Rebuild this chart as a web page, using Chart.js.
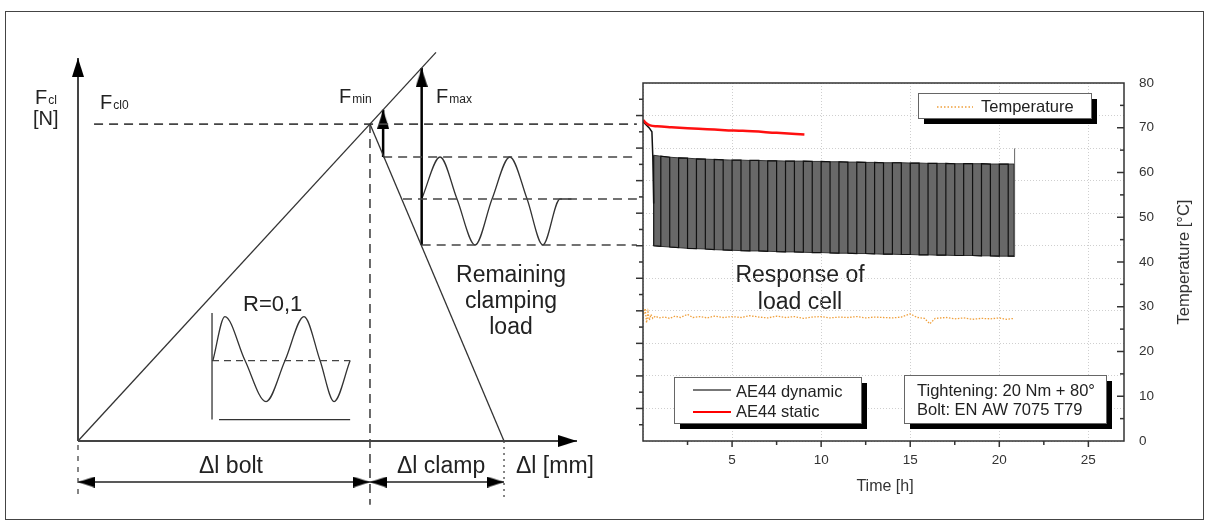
<!DOCTYPE html>
<html>
<head>
<meta charset="utf-8">
<script src="https://cdn.jsdelivr.net/npm/chart.js@4.4.1/dist/chart.umd.min.js"></script>
<style>
  body { margin: 0; background: #fff; }
  canvas { position: absolute; left: 0; top: 0; }
</style>
</head>
<body>
<canvas id="sketch" width="1210" height="530"></canvas>
<canvas id="plot" width="1210" height="530"></canvas>
<script>
// ---------- load cell / temperature measurement (right plot) ----------
// force axis on the left has no labels, 0..11 units
const staticTime = [0.02, 0.15, 0.4, 0.8, 1.6, 2.5, 3.6, 4.6, 5.6, 7.5, 9.06];
const staticForce = [9.86, 9.78, 9.70, 9.67, 9.64, 9.61, 9.58, 9.55, 9.53, 9.47, 9.42];

// dynamic signal: start transient, then max / min envelope of the cycles
const dynStart = [[0.02, 9.80], [0.35, 9.62], [0.5, 9.5], [0.55, 8.75], [0.6, 7.3]];
const dynTime = [0.6, 1.0, 1.5, 2.0, 2.5, 3.0, 3.5, 4.0, 4.5, 5.0, 5.5, 6.0, 6.5, 7.0,
  7.5, 8.0, 8.5, 9.0, 9.5, 10.0, 10.5, 11.0, 11.5, 12.0, 12.5, 13.0, 13.5, 14.0, 14.5,
  15.0, 15.5, 16.0, 16.5, 17.0, 17.5, 18.0, 18.5, 19.0, 19.5, 20.0, 20.5, 20.84];
const dynMax = [8.78, 8.75, 8.72, 8.70, 8.69, 8.67, 8.66, 8.65, 8.64, 8.63, 8.63, 8.62,
  8.62, 8.61, 8.61, 8.60, 8.60, 8.60, 8.59, 8.59, 8.58, 8.58, 8.57, 8.57, 8.56, 8.56,
  8.55, 8.55, 8.55, 8.54, 8.54, 8.53, 8.53, 8.53, 8.52, 8.52, 8.52, 8.52, 8.51, 8.51,
  8.51, 8.51];
const dynMin = [6.00, 5.98, 5.96, 5.94, 5.92, 5.91, 5.90, 5.88, 5.87, 5.86, 5.85, 5.84,
  5.84, 5.83, 5.82, 5.81, 5.81, 5.80, 5.79, 5.79, 5.78, 5.77, 5.77, 5.76, 5.76, 5.75,
  5.74, 5.74, 5.73, 5.73, 5.72, 5.72, 5.71, 5.71, 5.70, 5.70, 5.70, 5.69, 5.69, 5.68,
  5.68, 5.68];
const dynEnd = [[20.84, 5.68], [20.86, 8.99]];

const tempTime = [0.05, 0.12, 0.2, 0.28, 0.36, 0.45, 0.55, 0.7, 0.9, 1.2, 1.5, 1.8, 2.1,
  2.5, 2.8, 3.2, 3.6, 4.0, 4.5, 5.0, 5.5, 6.0, 6.5, 7.0, 7.5, 8.0, 8.5, 9.0, 9.5, 10.0,
  10.5, 11.0, 11.5, 12.0, 12.5, 13.0, 13.5, 14.0, 14.5, 15.0, 15.4, 15.8, 16.1, 16.4,
  17.0, 17.5, 18.0, 18.5, 19.0, 19.5, 20.0, 20.4, 20.84];
const tempValue = [28.4, 29.6, 26.4, 28.8, 27.0, 28.3, 27.4, 27.9, 27.5, 27.7, 27.4, 27.9,
  27.6, 28.3, 27.6, 27.8, 27.5, 27.9, 27.6, 27.8, 27.6, 28.0, 27.7, 27.5, 27.9, 27.6,
  27.8, 27.4, 27.7, 27.8, 27.5, 27.7, 27.6, 27.8, 27.5, 27.7, 27.6, 27.5, 27.7, 28.4,
  27.6, 27.4, 26.2, 27.4, 27.6, 27.3, 27.5, 27.2, 27.4, 27.3, 27.5, 27.2, 27.4];

const timeMajor = [5, 10, 15, 20, 25];
const timeMinor = [2.5, 7.5, 12.5, 17.5, 22.5];
const forceMajor = [1, 2, 3, 4, 5, 6, 7, 8, 9, 10];
const forceMinor = [0.5, 1.5, 2.5, 3.5, 4.5, 5.5, 6.5, 7.5, 8.5, 9.5, 10.5];
const tempMajor = [10, 20, 30, 40, 50, 60, 70];
const tempMinor = [5, 15, 25, 35, 45, 55, 65, 75];

// ---------- schematic (left), x = Δl, y = F in the same units as the load cell ----------
const F_CL0 = 9.73;
const F_UP = 8.72, F_MEAN = 7.43, F_LOW = 6.02;
const DL_BOLT = 10, DL_END = 14.59, DL_LINK = 19.14;
const fclAxis = [[0, 0], [0, 11.76]];
const dlAxis = [[0, 0], [17.09, 0]];
const boltLine = [[0, 0], [12.26, 11.93]];
const clampLine = [[DL_BOLT, F_CL0], [DL_END, 0]];
const fminArrow = [[10.45, F_UP], [10.45, 10.17]];
const fmaxArrow = [[11.77, F_LOW], [11.77, 11.45]];
const loadWave = [[11.77, F_MEAN], [12.4, F_UP], [12.98, F_MEAN], [13.6, F_LOW], [14.18, F_MEAN],
  [14.79, F_UP], [15.38, F_MEAN], [15.92, F_LOW], [16.51, F_MEAN], [16.9, F_MEAN]];
const insetWave = [[4.62, 2.47], [5.03, 3.82], [5.72, 2.47], [6.44, 1.21], [7.09, 2.47],
  [7.74, 3.82], [8.29, 2.47], [8.77, 1.21], [9.32, 2.47]];
const insetAxis = [[4.59, 3.93], [4.59, 0.66]];
const insetBase = [[4.83, 0.66], [9.32, 0.66]];
const insetMean = [[4.59, 2.47], [9.32, 2.47]];
const DIM_Y = -1.26;

const FONT = '"Liberation Sans", Arial, sans-serif';
Chart.defaults.font.family = FONT;

function makeArrow(w, len) {
    // tip sits in the centre of the canvas, so the point marks the tip
    const c = document.createElement('canvas');
    c.width = w;
    c.height = len * 2;
    const g = c.getContext('2d');
    g.fillStyle = '#000';
    g.beginPath();
    g.moveTo(w / 2, len);
    g.lineTo(w, len * 2);
    g.lineTo(0, len * 2);
    g.closePath();
    g.fill();
    return c;
}
const bigArrow = makeArrow(12, 19);
const dimArrow = makeArrow(11, 17);

function pts(arr) {
    return arr.map(p => ({ x: p[0], y: p[1] }));
}

function seg(arr, opt = {}) {
    const n = arr.length;
    return {
        data: pts(arr),
        showLine: true,
        borderColor: opt.color || '#333',
        borderWidth: opt.width || 1.3,
        borderDash: opt.dash || [],
        cubicInterpolationMode: opt.smooth ? 'monotone' : 'default',
        pointRadius: c => ((c.dataIndex === n - 1 && opt.end != null) || (c.dataIndex === 0 && opt.start != null)) ? 1 : 0,
        pointStyle: c => opt.arrow || bigArrow,
        pointRotation: c => (c.dataIndex === 0 ? (opt.start || 0) : (opt.end || 0)),
        pointBorderWidth: 0
    };
}

function subText(ctx, main, sub, x, y) {
    ctx.font = '20px ' + FONT;
    ctx.fillText(main, x, y);
    const w = ctx.measureText(main).width;
    ctx.font = '12px ' + FONT;
    ctx.fillText(sub, x + w + 1, y);
}

const sketchLabels = {
    id: 'sketchLabels',
    afterDraw(chart) {
        const ctx = chart.ctx;
        ctx.save();
        ctx.strokeStyle = '#444';
        ctx.lineWidth = 1;
        ctx.strokeRect(5.5, 11.5, 1198, 508);

        ctx.fillStyle = '#222';
        ctx.textAlign = 'left';
        subText(ctx, 'F', 'cl', 35, 104);
        ctx.font = '20px ' + FONT;
        ctx.fillText('[N]', 33, 125);
        subText(ctx, 'F', 'cl0', 100, 109);
        subText(ctx, 'F', 'min', 339, 103);
        subText(ctx, 'F', 'max', 436, 103);

        ctx.font = '22px ' + FONT;
        ctx.fillText('R=0,1', 243, 311);
        ctx.font = '23px ' + FONT;
        ctx.fillText('Δl bolt', 199, 473);
        ctx.fillText('Δl clamp', 397, 473);
        ctx.fillText('Δl [mm]', 516, 473);
        ctx.textAlign = 'center';
        ctx.fillText('Remaining', 511, 282);
        ctx.fillText('clamping', 511, 308);
        ctx.fillText('load', 511, 334);
        ctx.fillText('Response of', 800, 282);
        ctx.fillText('load cell', 800, 309);
        ctx.restore();
    }
};

new Chart(document.getElementById('sketch'), {
    type: 'scatter',
    data: {
        datasets: [
            seg(fclAxis, { width: 2, color: '#444', end: 0 }),
            seg(dlAxis, { width: 2, color: '#444', end: 90 }),
            seg(boltLine),
            seg(clampLine),
            seg([[0.55, F_CL0], [DL_LINK, F_CL0]], { dash: [9, 6], width: 1.6, color: '#444' }),
            seg([[10.45, F_UP], [DL_LINK, F_UP]], { dash: [9, 6], width: 1.6, color: '#444' }),
            seg([[11.13, F_MEAN], [DL_LINK, F_MEAN]], { dash: [9, 6], width: 1.6, color: '#444' }),
            seg([[11.77, F_LOW], [DL_LINK, F_LOW]], { dash: [9, 6], width: 1.6, color: '#444' }),
            seg([[DL_BOLT, F_CL0], [DL_BOLT, -1.96]], { dash: [9, 6], width: 1.6, color: '#444' }),
            seg([[0, -0.12], [0, -1.8]], { dash: [5, 6], width: 1.3, color: '#444' }),
            seg([[DL_END, 0], [DL_END, -1.8]], { dash: [2, 4], width: 1.3, color: '#444' }),
            seg(fminArrow, { width: 2.5, color: '#000', end: 0 }),
            seg(fmaxArrow, { width: 2.5, color: '#000', end: 0 }),
            seg(loadWave, { smooth: true }),
            seg([[0, DIM_Y], [DL_BOLT, DIM_Y]], { width: 1.5, color: '#222', start: 270, end: 90, arrow: dimArrow }),
            seg([[DL_BOLT, DIM_Y], [DL_END, DIM_Y]], { width: 1.5, color: '#222', start: 270, end: 90, arrow: dimArrow }),
            seg(insetAxis),
            seg(insetBase),
            seg(insetMean, { dash: [7, 5], color: '#444' }),
            seg(insetWave, { smooth: true })
        ]
    },
    options: {
        responsive: false,
        animation: false,
        events: [],
        layout: { padding: { left: 5, right: 567, top: 7.8, bottom: 10.8 } },
        plugins: { legend: { display: false }, tooltip: { enabled: false } },
        scales: {
            x: { type: 'linear', display: false, min: -2.5, max: 19.35 },
            y: { type: 'linear', display: false, min: -2.4, max: 13.3 }
        }
    },
    plugins: [sketchLabels]
});

// ---------- right plot ----------
const stripes = [];
dynTime.forEach((t, i) => {
    const a = i % 2 ? dynMin[i] : dynMax[i];
    const b = i % 2 ? dynMax[i] : dynMin[i];
    stripes.push({ x: t, y: a }, { x: t, y: b });
});

function drawBox(ctx, x, y, w, h) {
    ctx.fillStyle = '#000';
    ctx.fillRect(x + 6, y + 6, w, h);
    ctx.fillStyle = '#fff';
    ctx.fillRect(x, y, w, h);
    ctx.strokeStyle = '#666';
    ctx.lineWidth = 1;
    ctx.strokeRect(x + 0.5, y + 0.5, w, h);
}

const plotFrame = {
    id: 'plotFrame',
    afterDraw(chart) {
        const { ctx, chartArea: a, scales } = chart;
        ctx.save();
        ctx.strokeStyle = '#333';
        ctx.lineWidth = 1.5;
        ctx.strokeRect(a.left, a.top, a.right - a.left, a.bottom - a.top);

        const tick = (vals, scale, len, side) => {
            vals.forEach(v => {
                const p = scale.getPixelForValue(v);
                ctx.beginPath();
                if (side === 'bottom') { ctx.moveTo(p, a.bottom); ctx.lineTo(p, a.bottom + len); }
                if (side === 'left') { ctx.moveTo(a.left, p); ctx.lineTo(a.left - len, p); }
                if (side === 'right') { ctx.moveTo(a.right, p); ctx.lineTo(a.right - len, p); }
                ctx.stroke();
            });
        };
        tick(timeMajor, scales.x, 6, 'bottom');
        tick(timeMinor, scales.x, 4, 'bottom');
        tick(forceMajor, scales.yF, 7, 'left');
        tick(forceMinor, scales.yF, 4, 'left');
        tick(tempMajor, scales.yT, 7, 'right');
        tick(tempMinor, scales.yT, 4, 'right');

        ctx.fillStyle = '#333';
        ctx.font = '16px ' + FONT;
        ctx.textAlign = 'center';
        ctx.fillText('Time [h]', 885, 491);
        ctx.save();
        ctx.translate(1189, 262);
        ctx.rotate(-Math.PI / 2);
        ctx.font = '16.5px ' + FONT;
        ctx.fillText('Temperature [°C]', 0, 0);
        ctx.restore();

        // legend and info boxes
        drawBox(ctx, 918, 93, 173, 25);
        drawBox(ctx, 674, 377, 187, 46);
        drawBox(ctx, 904, 375, 202, 48);

        ctx.lineWidth = 1.5;
        ctx.strokeStyle = 'rgb(240,160,60)';
        ctx.setLineDash([1.5, 2]);
        ctx.beginPath(); ctx.moveTo(937, 107); ctx.lineTo(973, 107); ctx.stroke();
        ctx.setLineDash([]);
        ctx.lineWidth = 2;
        ctx.strokeStyle = '#777';
        ctx.beginPath(); ctx.moveTo(693, 390); ctx.lineTo(731, 390); ctx.stroke();
        ctx.strokeStyle = '#ff0000';
        ctx.beginPath(); ctx.moveTo(693, 412); ctx.lineTo(731, 412); ctx.stroke();

        ctx.fillStyle = '#222';
        ctx.textAlign = 'left';
        ctx.font = '16.5px ' + FONT;
        ctx.fillText('Temperature', 981, 112);
        ctx.fillText('AE44 dynamic', 736, 397);
        ctx.fillText('AE44 static', 736, 417);
        ctx.fillText('Tightening: 20 Nm + 80°', 917, 396);
        ctx.fillText('Bolt: EN AW 7075 T79', 917, 415);
        ctx.restore();
    }
};

const dotted = { color: '#cfcfcf', lineWidth: 1, drawTicks: false };

// lower "order" is drawn on top
new Chart(document.getElementById('plot'), {
    type: 'scatter',
    data: {
        datasets: [
            {
                label: 'band max',
                data: dynTime.map((t, i) => ({ x: t, y: dynMax[i] })),
                yAxisID: 'yF', showLine: true, pointRadius: 0, order: 6,
                borderColor: '#333', borderWidth: 1,
                backgroundColor: 'rgb(104,104,104)', fill: '+1'
            },
            {
                label: 'band min',
                data: dynTime.map((t, i) => ({ x: t, y: dynMin[i] })),
                yAxisID: 'yF', showLine: true, pointRadius: 0, order: 5,
                borderColor: '#333', borderWidth: 1
            },
            {
                label: 'AE44 dynamic',
                data: stripes,
                yAxisID: 'yF', showLine: true, pointRadius: 0, order: 4,
                borderColor: '#111', borderWidth: 1.2
            },
            {
                label: 'AE44 dynamic start',
                data: pts(dynStart),
                yAxisID: 'yF', showLine: true, pointRadius: 0, order: 3,
                borderColor: '#111', borderWidth: 1.5
            },
            {
                label: 'AE44 dynamic end',
                data: pts(dynEnd),
                yAxisID: 'yF', showLine: true, pointRadius: 0, order: 3,
                borderColor: '#666', borderWidth: 1
            },
            {
                label: 'AE44 static',
                data: staticTime.map((t, i) => ({ x: t, y: staticForce[i] })),
                yAxisID: 'yF', showLine: true, pointRadius: 0, order: 1,
                borderColor: '#ff1010', borderWidth: 2.5,
                cubicInterpolationMode: 'monotone'
            },
            {
                label: 'Temperature',
                data: tempTime.map((t, i) => ({ x: t, y: tempValue[i] })),
                yAxisID: 'yT', showLine: true, pointRadius: 0, order: 0,
                borderColor: 'rgb(240,160,60)', borderWidth: 1.3,
                borderDash: [1.5, 1.5]
            }
        ]
    },
    options: {
        responsive: false,
        animation: false,
        events: [],
        layout: { padding: { left: 643, top: 83, right: 36, bottom: 59 } },
        plugins: { legend: { display: false }, tooltip: { enabled: false } },
        scales: {
            x: {
                type: 'linear', position: 'bottom', min: 0, max: 27,
                afterFit: s => { s.height = 30; },
                ticks: {
                    stepSize: 5, includeBounds: false, maxRotation: 0, padding: 11,
                    color: '#333', font: { size: 13.5 },
                    callback: v => (v === 0 ? '' : v)
                },
                grid: dotted,
                border: { display: false, dash: [1, 2] }
            },
            yF: {
                type: 'linear', position: 'left', min: 0, max: 11,
                afterFit: s => { s.width = 0; },
                ticks: { display: false, stepSize: 1 },
                grid: dotted,
                border: { display: false, dash: [1, 2] }
            },
            yT: {
                type: 'linear', position: 'right', min: 0, max: 80,
                afterFit: s => { s.width = 50; },
                ticks: { stepSize: 10, padding: 7, color: '#333', font: { size: 13.5 } },
                grid: { display: false },
                border: { display: false }
            }
        }
    },
    plugins: [plotFrame]
});
</script>
</body>
</html>
